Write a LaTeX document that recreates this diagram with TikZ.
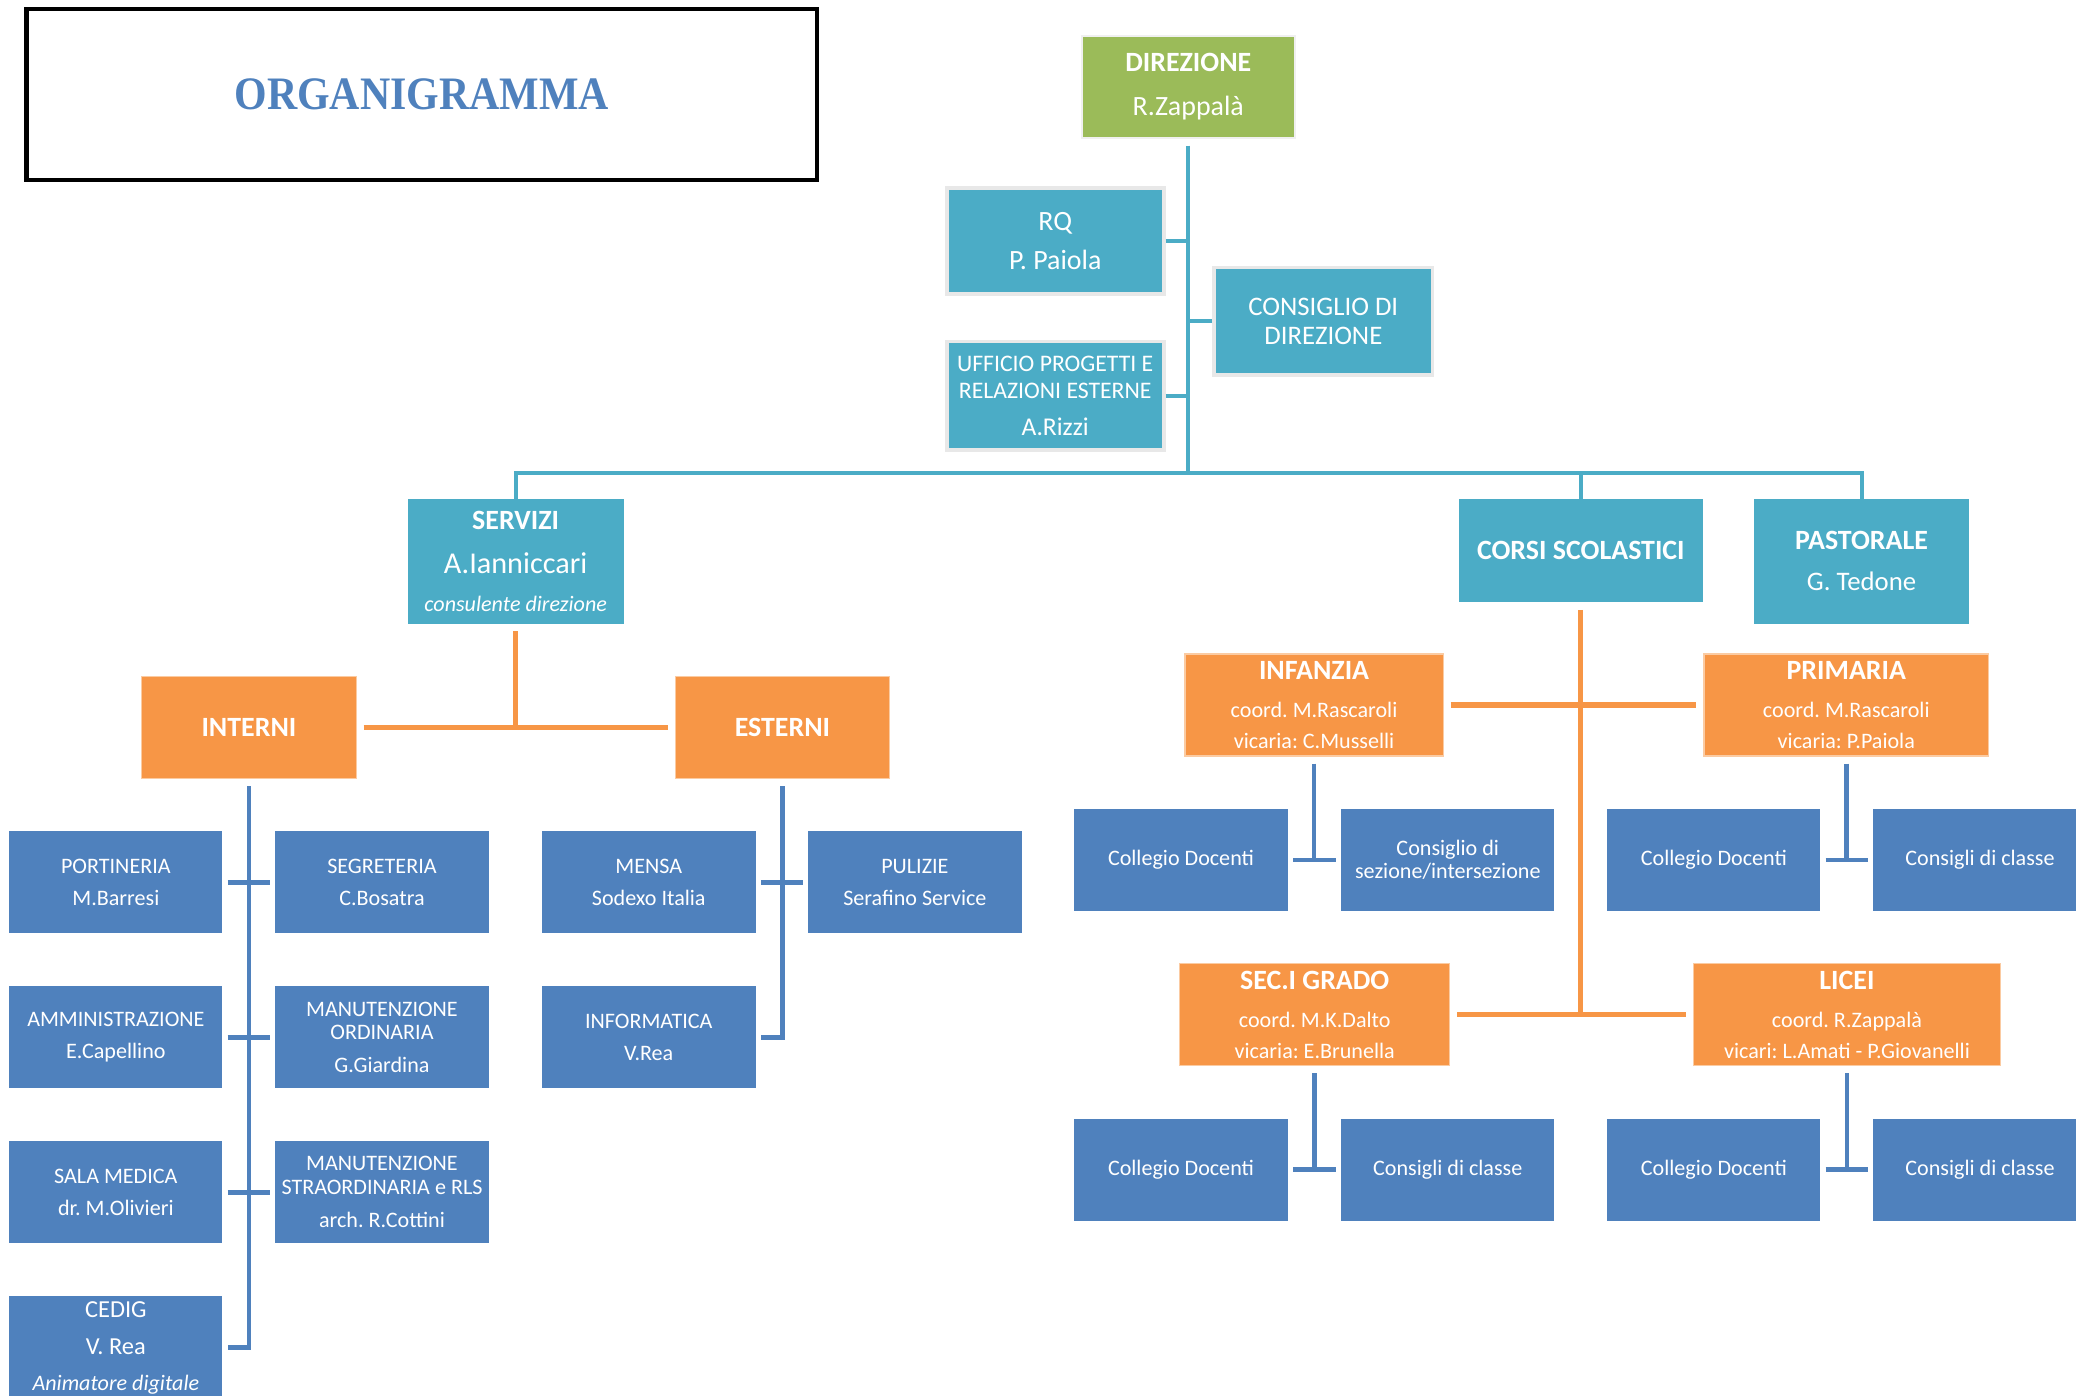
\documentclass[tikz,border=0pt]{standalone}
\usepackage{fontspec}
\setmainfont{Carlito}
\newfontfamily\titlefont[FakeStretch=0.9]{Liberation Serif}
\frenchspacing
\definecolor{tealc}{HTML}{4BACC6}
\definecolor{bluec}{HTML}{4F81BD}
\definecolor{orangec}{HTML}{F79646}
\definecolor{greenc}{HTML}{9BBB59}
\def\headfont{\fontsize{12}{14}\selectfont\bfseries}
\def\namefont{\fontsize{12}{14}\selectfont}
\begin{document}
\begin{tikzpicture}[x=0.02cm, y=-0.02cm]
\tikzset{box/.style 2 args = {rectangle, inner sep=0pt, text=white, align=center, minimum width=#1*0.02cm, minimum height=#2*0.02cm, font=\fontsize{9.5}{11}\selectfont}}
\tikzset{tealbox/.style = {fill=tealc}}
\tikzset{framed/.style = {draw=black!9, line width=1.6pt}}
\tikzset{bluebox/.style = {fill=bluec}}
\tikzset{orangebox/.style = {fill=orangec, draw=orangec!50!white, line width=0.5pt}}
\tikzset{tealline/.style = {-, draw=tealc, line width=1.7pt}}
\tikzset{blueline/.style = {-, draw=bluec, line width=2pt}}
\tikzset{orangeline/.style = {-, draw=orangec, line width=2.2pt}}
\clip (0,0) rectangle (1568,1054);
\node[draw=black, line width=1.8pt, inner sep=0pt, minimum width=597*0.02cm, minimum height=129*0.02cm, text=bluec, font=\titlefont\bfseries\fontsize{20}{24}\selectfont](title) at (318.5,71.5) {ORGANIGRAMMA};
\node[box={161}{77}, fill=greenc, draw=black!6, line width=0.8pt](dir) at (897.5,65.5) {{\headfont DIREZIONE}\\[7.7pt]{\namefont R.Zappalà}};
\node[box={164}{80}, tealbox, framed](rq) at (797,182) {{\namefont RQ}\\[6pt]{\namefont P. Paiola}};
\node[box={164}{82}, tealbox, framed, font=\fontsize{10.2}{11.3}\selectfont](uff) at (797,299) {UFFICIO PROGETTI E\\RELAZIONI ESTERNE\\[4.6pt]{\fontsize{11}{12}\selectfont A.Rizzi}};
\node[box={165}{81}, tealbox, framed, font=\fontsize{11.5}{12.5}\selectfont](cons) at (999.5,242.5) {CONSIGLIO DI\\DIREZIONE};
\coordinate (bus) at (897.5,357);
\node[box={163}{94}, tealbox](serv) at (389.5,424) {{\headfont SERVIZI}\\[7.7pt]{\fontsize{13}{15}\selectfont A.Ianniccari}\\[5.4pt]{\itshape consulente direzione}};
\node[box={184}{78}, tealbox](corsi) at (1194,416) {{\headfont CORSI SCOLASTICI}};
\node[box={162}{94}, tealbox](past) at (1406,424) {{\headfont PASTORALE}\\[6.6pt]{\fontsize{11.5}{14}\selectfont G. Tedone}};
\node[box={162}{77}, orangebox](int) at (188,549.5) {{\headfont INTERNI}};
\node[box={162}{77}, orangebox](est) at (591,549.5) {{\headfont ESTERNI}};
\node[box={161}{77}, bluebox](port) at (87.5,666.5) {PORTINERIA\\[2.6pt]M.Barresi};
\node[box={161}{77}, bluebox](segr) at (288.5,666.5) {SEGRETERIA\\[2.6pt]C.Bosatra};
\node[box={161}{77}, bluebox](amm) at (87.5,783.5) {AMMINISTRAZIONE\\[2.6pt]E.Capellino};
\node[box={161}{77}, bluebox](manord) at (288.5,783.5) {MANUTENZIONE\\[-0.8pt]ORDINARIA\\[3.2pt]G.Giardina};
\node[box={161}{77}, bluebox](sala) at (87.5,900.5) {SALA MEDICA\\[2.6pt]dr. M.Olivieri};
\node[box={161}{77}, bluebox](manstr) at (288.5,900.5) {MANUTENZIONE\\[-0.8pt]STRAORDINARIA e RLS\\[3.2pt]arch. R.Cottini};
\node[box={161}{78}, bluebox](cedig) at (87.5,1018) {{\fontsize{10.5}{12}\selectfont CEDIG}\\[4.8pt]{\fontsize{10.5}{12}\selectfont V. Rea}\\[4.3pt]{\itshape Animatore digitale}};
\node[box={162}{77}, bluebox](mensa) at (490,666.5) {MENSA\\[2.6pt]Sodexo Italia};
\node[box={162}{77}, bluebox](puliz) at (691,666.5) {PULIZIE\\[2.6pt]Serafino Service};
\node[box={162}{77}, bluebox](info) at (490,783.5) {INFORMATICA\\[2.6pt]V.Rea};
\node[box={195}{77}, orangebox](inf) at (992.5,532.5) {{\headfont INFANZIA}\\[5.4pt]coord. M.Rascaroli\\[2.6pt]vicaria: C.Musselli};
\node[box={215}{77}, orangebox](prim) at (1394.5,532.5) {{\headfont PRIMARIA}\\[5.4pt]coord. M.Rascaroli\\[2.6pt]vicaria: P.Paiola};
\node[box={204}{77}, orangebox](sec) at (993,766.5) {{\headfont SEC.I GRADO}\\[5.4pt]coord. M.K.Dalto\\[2.6pt]vicaria: E.Brunella};
\node[box={232}{77}, orangebox](lic) at (1395,766.5) {{\headfont LICEI}\\[5.4pt]coord. R.Zappalà\\[2.6pt]vicari: L.Amati - P.Giovanelli};
\node[box={162}{77}, bluebox](infcd) at (892,649.5) {Collegio Docenti};
\node[box={161}{77}, bluebox](infcs) at (1093.5,649.5) {Consiglio di\\[-1.4pt]sezione/intersezione};
\node[box={161}{77}, bluebox](primcd) at (1294.5,649.5) {Collegio Docenti};
\node[box={161}{77}, bluebox](primcc) at (1495.5,649.5) {Consigli di classe};
\node[box={162}{77}, bluebox](seccd) at (892,883.5) {Collegio Docenti};
\node[box={161}{77}, bluebox](seccc) at (1093.5,883.5) {Consigli di classe};
\node[box={161}{77}, bluebox](liccd) at (1294.5,883.5) {Collegio Docenti};
\node[box={161}{77}, bluebox](liccc) at (1495.5,883.5) {Consigli di classe};
\draw[tealline] ([yshift=-3pt]dir.south) -- (bus);
\draw[tealline] (rq.east) -- (rq.east -| bus);
\draw[tealline] (uff.east) -- (uff.east -| bus);
\draw[tealline] (cons.west) -- (cons.west -| bus);
\draw[tealline] (serv.north) -- (serv.north |- bus) -- (past.north |- bus) -- (past.north);
\draw[tealline] (corsi.north) -- (corsi.north |- bus);
\draw[orangeline] ([yshift=-3pt]serv.south) -- (serv.south |- int.east);
\draw[orangeline] ([xshift=3pt]int.east) -- ([xshift=-3pt]est.west);
\draw[blueline] ([yshift=-3pt]int.south) -- (int.south |- cedig.east) -- ([xshift=2pt]cedig.east);
\draw[blueline] ([xshift=2pt]port.east) -- ([xshift=-2pt]segr.west);
\draw[blueline] ([xshift=2pt]amm.east) -- ([xshift=-2pt]manord.west);
\draw[blueline] ([xshift=2pt]sala.east) -- ([xshift=-2pt]manstr.west);
\draw[blueline] ([yshift=-3pt]est.south) -- (est.south |- info.east) -- ([xshift=2pt]info.east);
\draw[blueline] ([xshift=2pt]mensa.east) -- ([xshift=-2pt]puliz.west);
\draw[orangeline] ([yshift=-3pt]corsi.south) -- (corsi.south |- sec.east);
\draw[orangeline] ([xshift=3pt]inf.east) -- ([xshift=-3pt]prim.west);
\draw[orangeline] ([xshift=3pt]sec.east) -- ([xshift=-3pt]lic.west);
\draw[blueline] ([yshift=-3pt]inf.south) -- (inf.south |- infcd.east);
\draw[blueline] ([xshift=2pt]infcd.east) -- ([xshift=-2pt]infcs.west);
\draw[blueline] ([yshift=-3pt]prim.south) -- (prim.south |- primcd.east);
\draw[blueline] ([xshift=2pt]primcd.east) -- ([xshift=-2pt]primcc.west);
\draw[blueline] ([yshift=-3pt]sec.south) -- (sec.south |- seccd.east);
\draw[blueline] ([xshift=2pt]seccd.east) -- ([xshift=-2pt]seccc.west);
\draw[blueline] ([yshift=-3pt]lic.south) -- (lic.south |- liccd.east);
\draw[blueline] ([xshift=2pt]liccd.east) -- ([xshift=-2pt]liccc.west);
\end{tikzpicture}
\end{document}
